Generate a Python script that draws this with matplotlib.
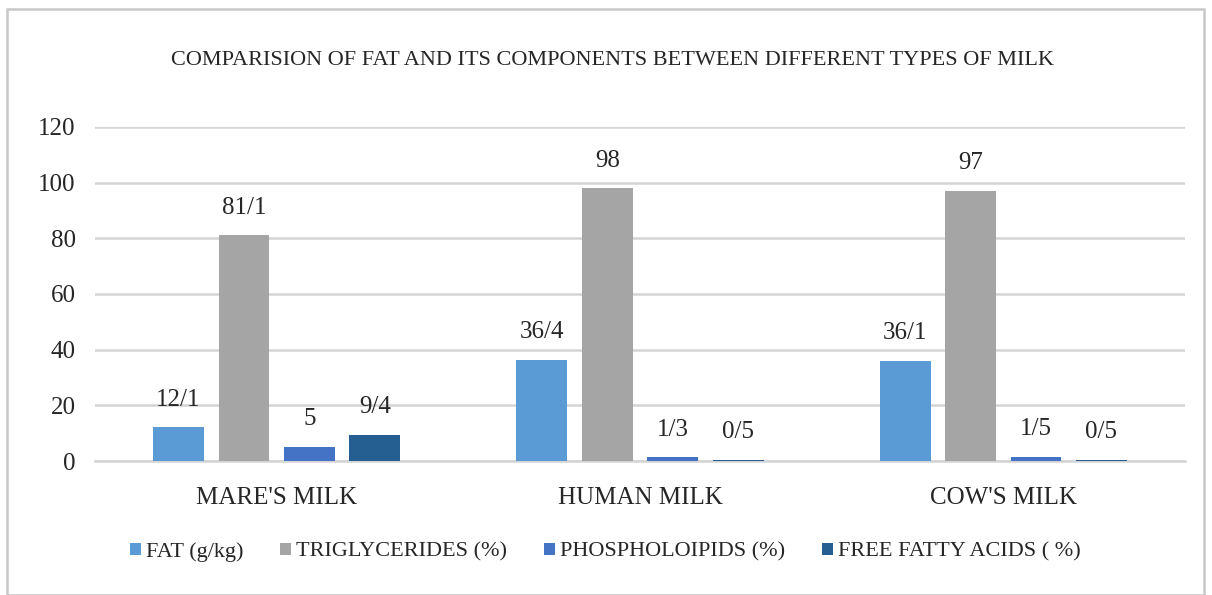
import matplotlib.pyplot as plt
import numpy as np
from matplotlib.patches import Rectangle

plt.rcParams['font.family'] = ['Liberation Serif', 'DejaVu Serif']

milks = ["MARE'S MILK", "HUMAN MILK", "COW'S MILK"]
series = ['FAT (g/kg)', 'TRIGLYCERIDES (%)', 'PHOSPHOLOIPIDS (%)', 'FREE FATTY ACIDS ( %)']
fat = [12.1, 36.4, 36.1]
triglycerides = [81.1, 98, 97]
phospholipids = [5, 1.3, 1.5]
free_fatty_acids = [9.4, 0.5, 0.5]
colors = ['#5B9BD5', '#A5A5A5', '#4472C4', '#255E91']

text_color = '#262626'
grid_color = '#D4D4D4'

fig = plt.figure(figsize=(12.12, 5.95), dpi=100)
fig.patches.append(Rectangle((0.006, 0.0), 0.987, 0.985, transform=fig.transFigure,
                             fill=False, edgecolor='#C8C8C8', linewidth=1.8))
ax = fig.add_axes([0.0784, 0.2252, 0.8993, 0.5614])

x = np.arange(len(milks))
width = 0.14
step = 0.18
for i, (name, vals) in enumerate(zip(series, [fat, triglycerides, phospholipids, free_fatty_acids])):
    pos = x + (i - 1.5) * step
    ax.bar(pos, vals, width, color=colors[i], label=name, zorder=3)
    for p, v in zip(pos, vals):
        ax.annotate(f'{v:g}'.replace('.', '/'), (p, v), xytext=(0, 12), textcoords='offset points',
                    ha='center', va='bottom', fontsize=18, color=text_color)

ax.set_xlim(-0.5, 2.5)
ax.set_ylim(0, 120)
ax.set_yticks(range(0, 121, 20))
ax.yaxis.grid(True, color=grid_color, linewidth=1.8, zorder=0)
ax.tick_params(axis='y', length=0, pad=14, labelsize=18, labelcolor=text_color)
ax.tick_params(axis='x', length=0, pad=19, labelsize=18, labelcolor=text_color)
ax.set_xticks(x)
ax.set_xticklabels(milks)
for s in ['top', 'right', 'left']:
    ax.spines[s].set_visible(False)
ax.spines['bottom'].set_color(grid_color)
ax.spines['bottom'].set_linewidth(1.8)

fig.text(0.505, 0.898, 'COMPARISION OF FAT AND ITS COMPONENTS BETWEEN DIFFERENT TYPES OF MILK',
         ha='center', va='center', fontsize=16, color=text_color)

leg = ax.legend(loc='center', bbox_to_anchor=(0.468, -0.272), ncol=4, frameon=False,
                fontsize=16, handlelength=0.5, handleheight=0.5, handletextpad=0.22,
                columnspacing=1.65, labelcolor=text_color)

fig.savefig('out.png', dpi=100)
